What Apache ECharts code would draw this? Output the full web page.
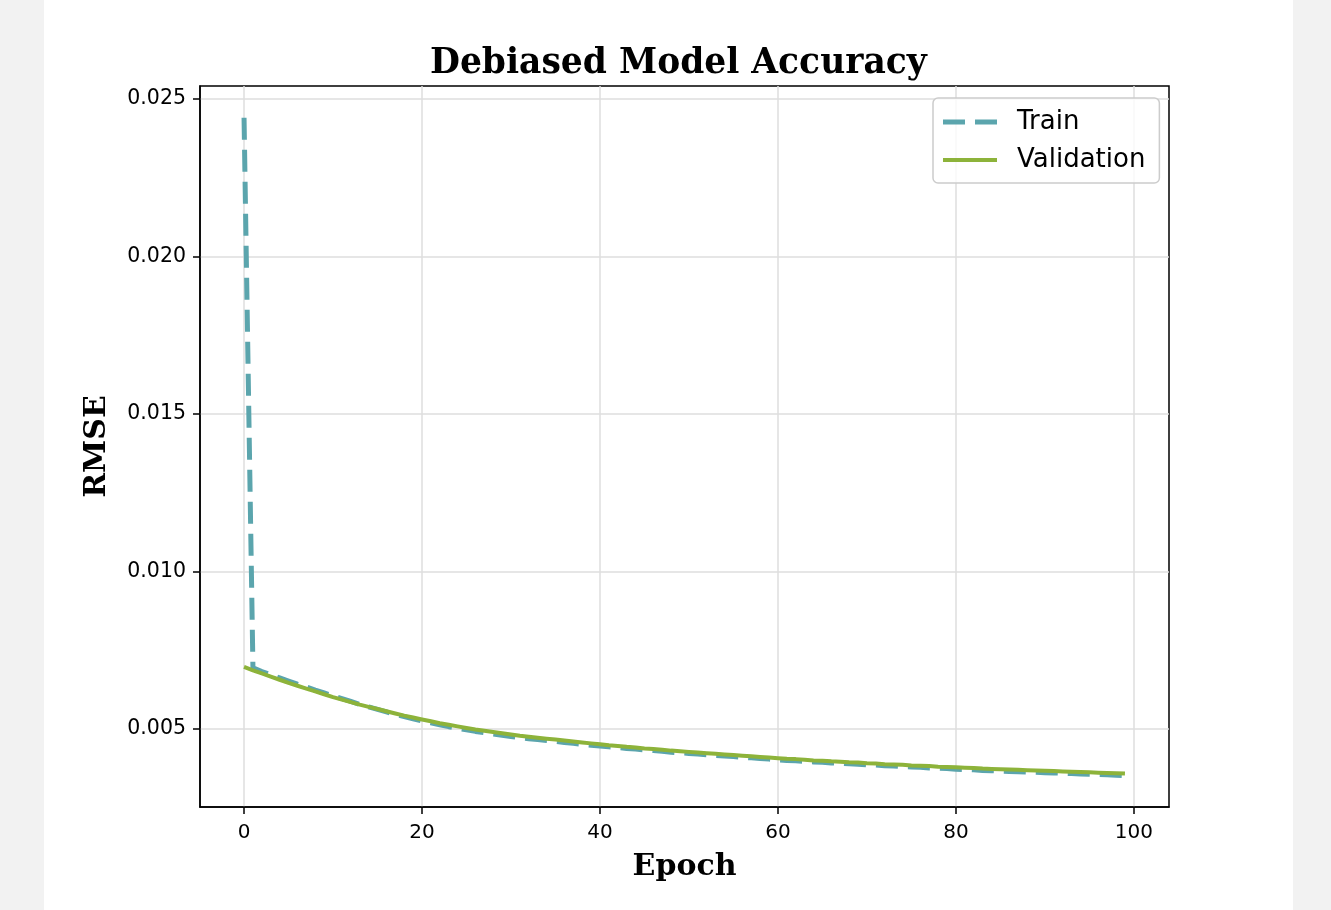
<!DOCTYPE html>
<html>
<head>
<meta charset="utf-8">
<title>Debiased Model Accuracy</title>
<script src="https://cdn.jsdelivr.net/npm/echarts@6/dist/echarts.min.js"></script>
<style>
  html, body { margin: 0; padding: 0; background: #f2f2f2; }
  #panel { position: absolute; left: 44px; top: 0; width: 1249px; height: 910px; background: #fff; }
  #chart { position: absolute; left: 0; top: 0; width: 1331px; height: 910px; }
</style>
</head>
<body>
<div id="panel"></div>
<div id="chart"></div>
<script>
// epochs 0..99
let epochs = [];
for (let i = 0; i < 100; i++) epochs.push(i);

// RMSE, one value per epoch
let trainRmse = [
  0.02440, 0.00694, 0.00682, 0.00672, 0.00662, 0.00652, 0.00642, 0.00633, 0.00623, 0.00614,
  0.00605, 0.00596, 0.00587, 0.00578, 0.00570, 0.00562, 0.00554, 0.00546, 0.00539, 0.00532,
  0.00525, 0.00519, 0.00513, 0.00507, 0.00502, 0.00497, 0.00492, 0.00488, 0.00484, 0.00480,
  0.00476, 0.00472, 0.00469, 0.00466, 0.00463, 0.00460, 0.00457, 0.00454, 0.00451, 0.00448,
  0.00446, 0.00443, 0.00441, 0.00438, 0.00436, 0.00433, 0.00431, 0.00429, 0.00426, 0.00424,
  0.00422, 0.00420, 0.00418, 0.00416, 0.00414, 0.00412, 0.00410, 0.00408, 0.00406, 0.00404,
  0.00402, 0.00400, 0.00399, 0.00397, 0.00395, 0.00394, 0.00392, 0.00391, 0.00389, 0.00388,
  0.00386, 0.00385, 0.00383, 0.00382, 0.00380, 0.00379, 0.00378, 0.00376, 0.00375, 0.00374,
  0.00372, 0.00371, 0.00370, 0.00368, 0.00367, 0.00366, 0.00365, 0.00364, 0.00363, 0.00362,
  0.00361, 0.00360, 0.00359, 0.00358, 0.00357, 0.00356, 0.00355, 0.00354, 0.00353, 0.00352
];
let valRmse = [
  0.00697, 0.00686, 0.00676, 0.00666, 0.00656, 0.00646, 0.00637, 0.00628, 0.00619, 0.00610,
  0.00601, 0.00593, 0.00585, 0.00577, 0.00570, 0.00563, 0.00556, 0.00549, 0.00542, 0.00536,
  0.00530, 0.00524, 0.00518, 0.00513, 0.00508, 0.00503, 0.00498, 0.00494, 0.00490, 0.00486,
  0.00482, 0.00478, 0.00475, 0.00472, 0.00469, 0.00466, 0.00463, 0.00460, 0.00457, 0.00454,
  0.00451, 0.00448, 0.00446, 0.00443, 0.00441, 0.00438, 0.00436, 0.00434, 0.00431, 0.00429,
  0.00427, 0.00425, 0.00423, 0.00421, 0.00419, 0.00417, 0.00415, 0.00413, 0.00411, 0.00409,
  0.00407, 0.00405, 0.00404, 0.00402, 0.00400, 0.00399, 0.00397, 0.00396, 0.00394, 0.00393,
  0.00391, 0.00390, 0.00388, 0.00387, 0.00386, 0.00384, 0.00383, 0.00382, 0.00380, 0.00379,
  0.00378, 0.00377, 0.00376, 0.00374, 0.00373, 0.00372, 0.00371, 0.00370, 0.00369, 0.00368,
  0.00367, 0.00366, 0.00365, 0.00364, 0.00363, 0.00362, 0.00361, 0.00360, 0.00359, 0.00358
];

let xTicks = [0, 20, 40, 60, 80, 100];
let yTicks = [0.005, 0.010, 0.015, 0.020, 0.025];

let myChart = echarts.init(document.getElementById('chart'));

let serif = '"DejaVu Serif", serif';
let sans = '"DejaVu Sans", sans-serif';

let option = {
  animation: false,
  title: {
    text: 'Debiased Model Accuracy',
    left: 425,
    top: 42,
    textStyle: { fontFamily: serif, fontWeight: 'bold', fontSize: 34.5, color: '#000' }
  },
  legend: {
    left: 933,
    top: 98,
    orient: 'vertical',
    padding: [11, 14, 10, 10],
    itemWidth: 54,
    itemHeight: 5,
    itemGap: 12,
    borderColor: '#cccccc',
    borderWidth: 1.5,
    borderRadius: 5,
    backgroundColor: 'rgba(255,255,255,0.8)',
    textStyle: { fontFamily: sans, fontSize: 26, color: '#000', padding: [0, 0, 0, 15] },
    data: [
      { name: 'Train', icon: 'path://M0,0H22V5H0Z M32,0H54V5H32Z' },
      { name: 'Validation', icon: 'path://M0,0.5H54V4.5H0Z' }
    ]
  },
  grid: {
    left: 200,
    top: 86,
    width: 969,
    height: 721,
    show: true,
    borderColor: '#000',
    borderWidth: 1.5,
    containLabel: false
  },
  xAxis: {
    type: 'value',
    min: -4.95,
    max: 103.95,
    name: 'Epoch',
    nameLocation: 'middle',
    nameGap: 45,
    nameTextStyle: { fontFamily: serif, fontWeight: 'bold', fontSize: 30, color: '#000' },
    axisLine: { show: true, onZero: false, lineStyle: { color: '#000', width: 1.5 } },
    axisTick: { show: true, length: 7, customValues: xTicks, lineStyle: { color: '#000', width: 1.5 } },
    axisLabel: {
      customValues: xTicks,
      margin: 16,
      fontFamily: sans, fontSize: 20, color: '#000'
    },
    splitLine: { show: true, lineStyle: { color: '#dedede', width: 1.5 } }
  },
  yAxis: {
    type: 'value',
    min: 0.00252,
    max: 0.02541,
    name: 'RMSE',
    nameLocation: 'middle',
    nameGap: 88,
    nameRotate: 90,
    nameTextStyle: { fontFamily: serif, fontWeight: 'bold', fontSize: 30, color: '#000' },
    axisLine: { show: true, onZero: false, lineStyle: { color: '#000', width: 1.5 } },
    axisTick: { show: true, length: 7, customValues: yTicks, lineStyle: { color: '#000', width: 1.5 } },
    axisLabel: {
      customValues: yTicks,
      margin: 14,
      fontFamily: sans, fontSize: 20.5, color: '#000',
      formatter: function (v) { return v.toFixed(3); }
    },
    splitLine: { show: true, lineStyle: { color: '#dedede', width: 1.5 } }
  },
  series: [
    {
      name: 'Train',
      type: 'line',
      showSymbol: false,
      symbol: 'none',
      data: epochs.map((e, i) => [e, trainRmse[i]]),
      itemStyle: { color: '#5ba5ad' },
      lineStyle: { color: '#5ba5ad', width: 5, type: [22, 10] },
      z: 2
    },
    {
      name: 'Validation',
      type: 'line',
      showSymbol: false,
      symbol: 'none',
      data: epochs.map((e, i) => [e, valRmse[i]]),
      itemStyle: { color: '#8db33a' },
      lineStyle: { color: '#8db33a', width: 4 },
      z: 3
    }
  ]
};

myChart.setOption(option);
</script>
</body>
</html>
